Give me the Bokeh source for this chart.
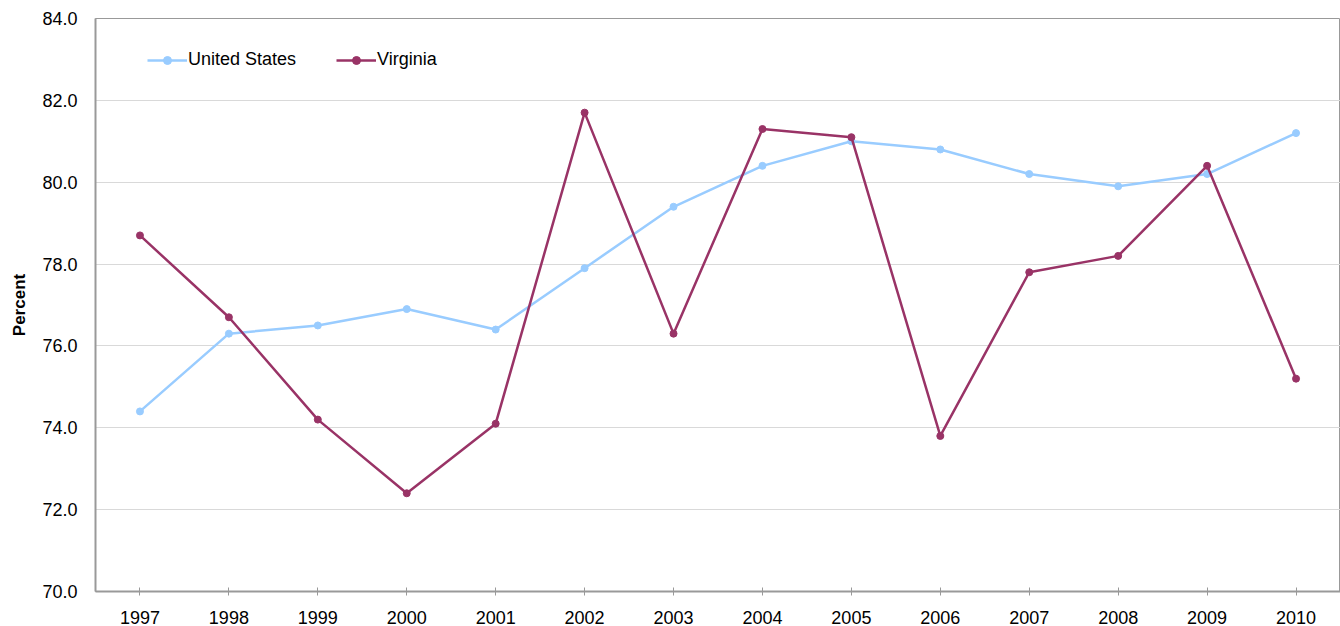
from bokeh.plotting import figure
from bokeh.models import FactorRange, Range1d, FixedTicker, NumeralTickFormatter, Legend, LegendItem
from bokeh.embed import file_html
from bokeh.resources import INLINE

years = ["1997", "1998", "1999", "2000", "2001", "2002", "2003", "2004", "2005", "2006", "2007", "2008", "2009", "2010"]
us = [74.4, 76.3, 76.5, 76.9, 76.4, 77.9, 79.4, 80.4, 81.0, 80.8, 80.2, 79.9, 80.2, 81.2]
va = [78.7, 76.7, 74.2, 72.4, 74.1, 81.7, 76.3, 81.3, 81.1, 73.8, 77.8, 78.2, 80.4, 75.2]
y_ticks = [70, 72, 74, 76, 78, 80, 82, 84]

US_COLOR = "#99CCFF"
VA_COLOR = "#993366"
FONT = "Liberation Sans"

p = figure(width=1340, height=626, x_range=FactorRange(*years, range_padding=0),
           y_range=Range1d(70, 84), output_backend="svg", toolbar_location=None,
           min_border_left=95, min_border_right=0, min_border_top=18, min_border_bottom=35)

l1 = p.line(years, us, line_color=US_COLOR, line_width=2.5)
c1 = p.scatter(years, us, size=7, fill_color=US_COLOR, line_color=US_COLOR)
l2 = p.line(years, va, line_color=VA_COLOR, line_width=2.5)
c2 = p.scatter(years, va, size=7, fill_color=VA_COLOR, line_color=VA_COLOR)

p.outline_line_color = "#999999"
p.outline_line_width = 1
p.xgrid.grid_line_color = None
p.ygrid.grid_line_color = "#D9D9D9"
p.ygrid.grid_line_width = 1

p.yaxis.ticker = FixedTicker(ticks=y_ticks)
p.yaxis.formatter = NumeralTickFormatter(format="0.0")
p.yaxis.major_tick_line_color = None
p.yaxis.minor_tick_line_color = None
p.yaxis.axis_line_color = "#999999"
p.yaxis.axis_line_width = 2
p.yaxis.major_label_standoff = 12
p.yaxis.axis_label = "Percent"
p.yaxis.axis_label_text_font = FONT
p.yaxis.axis_label_text_font_style = "bold"
p.yaxis.axis_label_text_font_size = "17px"
p.yaxis.axis_label_text_color = "#000000"
p.yaxis.axis_label_standoff = 10

p.xaxis.axis_line_color = "#999999"
p.xaxis.axis_line_width = 2
p.xaxis.major_tick_line_color = "#999999"
p.xaxis.major_tick_in = 4
p.xaxis.major_tick_out = 4
p.xaxis.major_label_standoff = 15

for ax in (p.xaxis, p.yaxis):
    ax.major_label_text_font = FONT
    ax.major_label_text_font_size = "18px"
    ax.major_label_text_color = "#000000"

legend = Legend(items=[LegendItem(label="United States", renderers=[l1, c1]),
                       LegendItem(label="Virginia", renderers=[l2, c2])],
                location=(52, 521), orientation="horizontal",
                border_line_color=None, background_fill_alpha=0,
                padding=0, margin=0, spacing=40,
                glyph_width=40, glyph_height=20, label_height=20,
                label_standoff=1, label_text_font=FONT, label_text_font_size="18px",
                label_text_color="#000000")
p.add_layout(legend)

open("out.html", "w").write(file_html(p, INLINE))
